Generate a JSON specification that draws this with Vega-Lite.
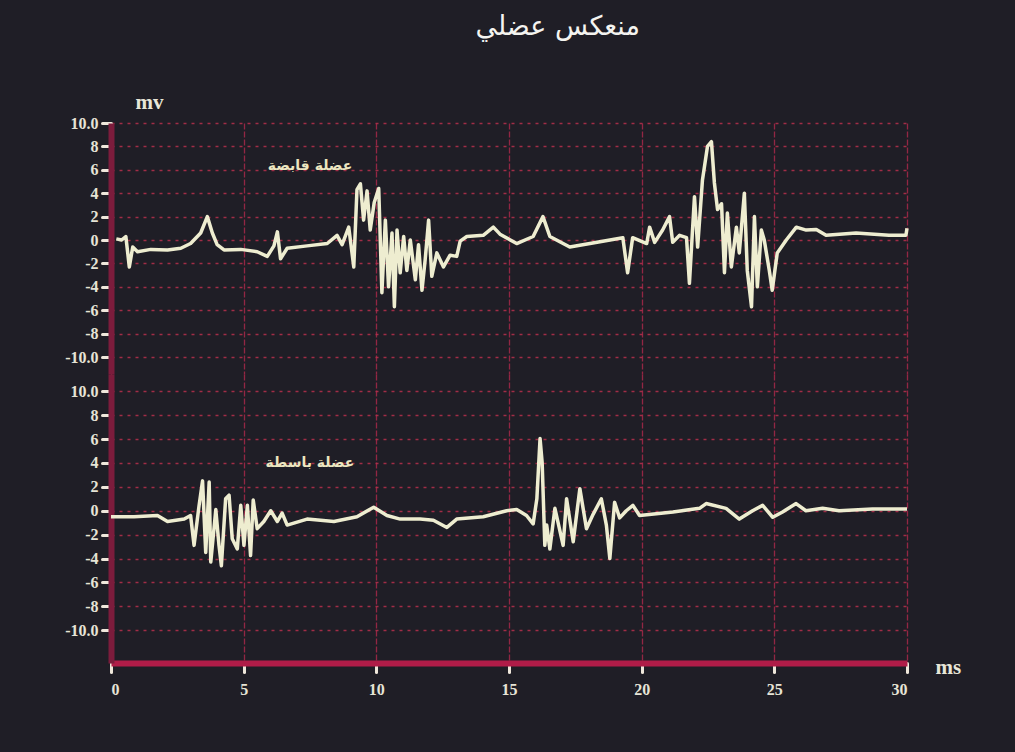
{
  "$schema": "https://vega.github.io/schema/vega-lite/v6.json",
  "background": "#1f1e26",
  "padding": {"left": 64, "top": 13, "right": 62, "bottom": 56},
  "title": {"text": "منعكس عضلي", "color": "#f4f4f0", "fontSize": 27, "font": "DejaVu Sans", "fontWeight": "normal", "anchor": "middle", "dx": 45, "offset": 50},
  "spacing": 0,
  "datasets": {
    "top": [
      {"t": 0.2, "v": 0.1}, {"t": 0.4, "v": 0.0}, {"t": 0.56, "v": 0.3}, {"t": 0.69, "v": -2.3}, {"t": 0.82, "v": -0.6},
      {"t": 1.0, "v": -1.0}, {"t": 1.5, "v": -0.8}, {"t": 2.13, "v": -0.85}, {"t": 2.63, "v": -0.7}, {"t": 3.0, "v": -0.3},
      {"t": 3.38, "v": 0.6}, {"t": 3.63, "v": 2.0}, {"t": 3.82, "v": 0.6}, {"t": 4.0, "v": -0.4}, {"t": 4.26, "v": -0.85},
      {"t": 4.89, "v": -0.8}, {"t": 5.51, "v": -1.0}, {"t": 5.89, "v": -1.4}, {"t": 6.14, "v": -0.5}, {"t": 6.27, "v": 0.7},
      {"t": 6.39, "v": -1.6}, {"t": 6.64, "v": -0.7}, {"t": 7.39, "v": -0.5}, {"t": 8.15, "v": -0.3}, {"t": 8.52, "v": 0.4},
      {"t": 8.71, "v": -0.4}, {"t": 8.96, "v": 1.1}, {"t": 9.15, "v": -2.3}, {"t": 9.27, "v": 4.3}, {"t": 9.4, "v": 4.8},
      {"t": 9.52, "v": 1.7}, {"t": 9.65, "v": 4.2}, {"t": 9.77, "v": 0.85}, {"t": 9.92, "v": 3.2}, {"t": 10.09, "v": 4.4},
      {"t": 10.21, "v": -4.5}, {"t": 10.34, "v": 1.7}, {"t": 10.46, "v": -4.0}, {"t": 10.59, "v": 0.6}, {"t": 10.68, "v": -5.7},
      {"t": 10.78, "v": 0.85}, {"t": 10.9, "v": -2.8}, {"t": 11.03, "v": 0.3}, {"t": 11.15, "v": -2.6}, {"t": 11.28, "v": 0.0},
      {"t": 11.47, "v": -3.4}, {"t": 11.59, "v": -0.4}, {"t": 11.72, "v": -4.3}, {"t": 11.84, "v": -1.7}, {"t": 11.97, "v": 1.7},
      {"t": 12.09, "v": -3.1}, {"t": 12.28, "v": -1.1}, {"t": 12.53, "v": -2.3}, {"t": 12.78, "v": -1.3}, {"t": 13.03, "v": -1.4},
      {"t": 13.16, "v": -0.1}, {"t": 13.41, "v": 0.3}, {"t": 14.03, "v": 0.4}, {"t": 14.41, "v": 1.1}, {"t": 14.66, "v": 0.5},
      {"t": 15.29, "v": -0.3}, {"t": 15.91, "v": 0.3}, {"t": 16.28, "v": 2.0}, {"t": 16.54, "v": 0.3}, {"t": 17.29, "v": -0.6},
      {"t": 18.05, "v": -0.3}, {"t": 19.29, "v": 0.2}, {"t": 19.47, "v": -2.8}, {"t": 19.66, "v": 0.2}, {"t": 20.19, "v": -0.3},
      {"t": 20.3, "v": 1.1}, {"t": 20.49, "v": -0.2}, {"t": 20.79, "v": 0.85}, {"t": 21.05, "v": 2.0}, {"t": 21.17, "v": -0.2},
      {"t": 21.43, "v": 0.4}, {"t": 21.69, "v": 0.2}, {"t": 21.8, "v": -3.7}, {"t": 21.99, "v": 3.7}, {"t": 22.11, "v": -0.6},
      {"t": 22.29, "v": 5.1}, {"t": 22.48, "v": 8.0}, {"t": 22.63, "v": 8.4}, {"t": 22.74, "v": 4.9}, {"t": 22.86, "v": 2.6},
      {"t": 23.01, "v": 3.1}, {"t": 23.12, "v": -2.8}, {"t": 23.23, "v": 2.3}, {"t": 23.38, "v": -2.3}, {"t": 23.57, "v": 1.1},
      {"t": 23.68, "v": -1.1}, {"t": 23.87, "v": 4.0}, {"t": 23.98, "v": -2.6}, {"t": 24.14, "v": -5.7}, {"t": 24.25, "v": 2.0},
      {"t": 24.36, "v": -4.0}, {"t": 24.51, "v": 0.85}, {"t": 24.62, "v": 0.0}, {"t": 24.81, "v": -2.6}, {"t": 24.92, "v": -4.3},
      {"t": 25.11, "v": -1.1}, {"t": 25.45, "v": 0.0}, {"t": 25.83, "v": 1.1}, {"t": 26.2, "v": 0.85}, {"t": 26.58, "v": 0.9},
      {"t": 26.95, "v": 0.4}, {"t": 28.08, "v": 0.6}, {"t": 29.32, "v": 0.4}, {"t": 29.96, "v": 0.4}, {"t": 30.0, "v": 1.0}
    ],
    "bottom": [
      {"t": 0.0, "v": -0.5}, {"t": 0.87, "v": -0.5}, {"t": 1.75, "v": -0.4}, {"t": 2.13, "v": -0.9}, {"t": 2.76, "v": -0.7},
      {"t": 3.0, "v": -0.4}, {"t": 3.13, "v": -2.9}, {"t": 3.32, "v": 0.45}, {"t": 3.45, "v": 2.5}, {"t": 3.57, "v": -3.5},
      {"t": 3.7, "v": 2.4}, {"t": 3.76, "v": -4.3}, {"t": 3.95, "v": 0.1}, {"t": 4.07, "v": -2.9}, {"t": 4.16, "v": -4.6},
      {"t": 4.32, "v": 1.0}, {"t": 4.45, "v": 1.3}, {"t": 4.57, "v": -2.35}, {"t": 4.76, "v": -3.2}, {"t": 4.89, "v": 0.45},
      {"t": 5.01, "v": -2.9}, {"t": 5.14, "v": 0.45}, {"t": 5.26, "v": -3.75}, {"t": 5.36, "v": 0.9}, {"t": 5.51, "v": -1.5},
      {"t": 5.76, "v": -0.9}, {"t": 6.02, "v": 0.0}, {"t": 6.27, "v": -0.9}, {"t": 6.45, "v": -0.2}, {"t": 6.64, "v": -1.2},
      {"t": 7.39, "v": -0.7}, {"t": 8.4, "v": -0.9}, {"t": 9.27, "v": -0.5}, {"t": 9.9, "v": 0.3}, {"t": 10.4, "v": -0.4},
      {"t": 10.9, "v": -0.7}, {"t": 11.65, "v": -0.7}, {"t": 12.15, "v": -0.8}, {"t": 12.66, "v": -1.4}, {"t": 13.03, "v": -0.7},
      {"t": 14.03, "v": -0.5}, {"t": 14.91, "v": 0.0}, {"t": 15.29, "v": 0.1}, {"t": 15.66, "v": -0.4}, {"t": 15.91, "v": -1.1},
      {"t": 16.05, "v": 1.0}, {"t": 16.17, "v": 6.05}, {"t": 16.25, "v": 4.0}, {"t": 16.35, "v": -2.9}, {"t": 16.42, "v": -1.2},
      {"t": 16.54, "v": -3.2}, {"t": 16.73, "v": 0.2}, {"t": 17.04, "v": -2.9}, {"t": 17.17, "v": 1.0}, {"t": 17.42, "v": -2.6},
      {"t": 17.67, "v": 1.85}, {"t": 17.92, "v": -1.5}, {"t": 18.17, "v": -0.3}, {"t": 18.48, "v": 1.0}, {"t": 18.67, "v": -1.2},
      {"t": 18.8, "v": -4.0}, {"t": 18.98, "v": 0.7}, {"t": 19.17, "v": -0.6}, {"t": 19.42, "v": 0.0}, {"t": 19.67, "v": 0.45},
      {"t": 19.92, "v": -0.4}, {"t": 21.18, "v": -0.1}, {"t": 22.18, "v": 0.2}, {"t": 22.43, "v": 0.6}, {"t": 23.18, "v": 0.2},
      {"t": 23.68, "v": -0.7}, {"t": 24.18, "v": 0.0}, {"t": 24.56, "v": 0.45}, {"t": 24.94, "v": -0.55}, {"t": 25.31, "v": -0.1},
      {"t": 25.82, "v": 0.6}, {"t": 26.19, "v": 0.0}, {"t": 26.82, "v": 0.2}, {"t": 27.44, "v": 0.0}, {"t": 28.7, "v": 0.15},
      {"t": 30.0, "v": 0.15}
    ]
  },
  "vconcat": [
    {
      "width": 796,
      "height": 251,
      "encoding": {
        "x": {"field": "t", "type": "quantitative", "scale": {"domain": [0, 30], "nice": false},
          "axis": {"values": [0, 5, 10, 15, 20, 25, 30], "labels": false, "ticks": false, "domain": false, "title": null, "grid": true, "gridColor": "#a8284a", "gridDash": [6, 2], "gridWidth": 1.3}},
        "y": {"field": "v", "type": "quantitative", "scale": {"domain": [-11.45, 10], "nice": false, "zero": false},
          "axis": {"values": [-10, -8, -6, -4, -2, 0, 2, 4, 6, 8, 10],
            "labelExpr": "replace(abs(datum.value) == 10 ? format(datum.value, '.1f') : format(datum.value, 'd'), '\u2212', '-')",
            "labelFontSize": 16, "labelFont": "Liberation Serif", "labelFontWeight": "bold", "labelColor": "#e6e4d6", "labelPadding": 4,
            "title": "mv", "titleAngle": 0, "titleX": 24, "titleY": -11, "titleAlign": "left", "titleBaseline": "bottom",
            "titleColor": "#e8e6d8", "titleFont": "Liberation Serif", "titleFontSize": 21, "titleFontWeight": "bold"}}
      },
      "layer": [
        {"data": {"name": "top"}, "mark": {"type": "line", "color": "#eeedd0", "strokeWidth": 3.5, "strokeJoin": "round"}},
        {"data": {"values": [{"t": 7.5, "v": 6.3, "label": "عضلة قابضة"}]},
          "mark": {"type": "text", "font": "DejaVu Sans", "fontWeight": "bold", "fontSize": 14, "color": "#ece6c0"},
          "encoding": {"text": {"field": "label"}}}
      ]
    },
    {
      "width": 796,
      "height": 289,
      "encoding": {
        "x": {"field": "t", "type": "quantitative", "scale": {"domain": [0, 30], "nice": false},
          "axis": {"values": [0, 5, 10, 15, 20, 25, 30], "title": "ms", "titleAngle": 0, "titleX": 824, "titleY": 4, "titleAlign": "left", "titleBaseline": "middle",
            "titleColor": "#e8e6d8", "titleFont": "Liberation Serif", "titleFontSize": 21, "titleFontWeight": "bold",
            "labelFontSize": 16, "labelFont": "Liberation Serif", "labelFontWeight": "bold", "labelColor": "#e6e4d6",
            "domainColor": "#b01c48", "domainWidth": 6, "labelPadding": 9, "grid": true, "gridColor": "#a8284a", "gridDash": [6, 2], "gridWidth": 1.3}},
        "y": {"field": "v", "type": "quantitative", "scale": {"domain": [-12.75, 11.45], "nice": false, "zero": false},
          "axis": {"values": [-10, -8, -6, -4, -2, 0, 2, 4, 6, 8, 10],
            "labelExpr": "replace(abs(datum.value) == 10 ? format(datum.value, '.1f') : format(datum.value, 'd'), '\u2212', '-')",
            "labelFontSize": 16, "labelFont": "Liberation Serif", "labelFontWeight": "bold", "labelColor": "#e6e4d6", "labelPadding": 4,
            "title": null}}
      },
      "layer": [
        {"data": {"name": "bottom"}, "mark": {"type": "line", "color": "#eeedd0", "strokeWidth": 3.5, "strokeJoin": "round"}},
        {"data": {"values": [{"t": 7.5, "v": 4.0, "label": "عضلة باسطة"}]},
          "mark": {"type": "text", "font": "DejaVu Sans", "fontWeight": "bold", "fontSize": 14, "color": "#ece6c0"},
          "encoding": {"text": {"field": "label"}}}
      ]
    }
  ],
  "config": {
    "view": {"stroke": null},
    "axis": {
      "domainColor": "#7c1c3c", "domainWidth": 6,
      "tickColor": "#f0e8dc", "tickWidth": 3, "tickSize": 9, "tickCap": "round",
      "gridColor": "#b8304e", "gridDash": [3, 5], "gridWidth": 1.5, "gridOpacity": 0.85
    }
  }
}
